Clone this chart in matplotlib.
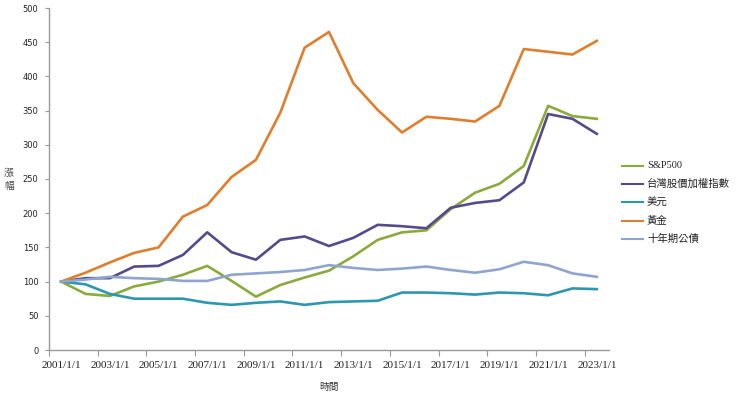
import matplotlib
matplotlib.use('Agg')
from matplotlib import pyplot as plt
from matplotlib.lines import Line2D
from matplotlib.ticker import FixedLocator, NullFormatter
import numpy as np

years = ['%d/1/1' % y for y in range(2001, 2024)]

sp500 = [100, 82, 79, 93, 100, 110, 123, 101, 78, 95, 106, 116, 137, 161, 172, 175, 206, 230, 243, 269, 357, 342, 338]
taiex = [100, 105, 105, 122, 123, 139, 172, 143, 132, 161, 166, 152, 164, 183, 181, 178, 208, 215, 219, 245, 345, 338, 316]
usd = [100, 96, 82, 75, 75, 75, 69, 66, 69, 71, 66, 70, 71, 72, 84, 84, 83, 81, 84, 83, 80, 90, 89]
gold = [100, 113, 128, 142, 150, 195, 212, 253, 278, 347, 442, 465, 390, 351, 318, 341, 338, 334, 357, 440, 436, 432, 452]
bond = [100, 103, 107, 105, 104, 101, 101, 110, 112, 114, 117, 124, 120, 117, 119, 122, 117, 113, 118, 129, 124, 112, 107]

series = [
    ('S&P500', sp500, '#8BAA3C'),
    ('台灣股價加權指數', taiex, '#574A8C'),
    ('美元', usd, '#2E97B0'),
    ('黃金', gold, '#E07E2E'),
    ('十年期公債', bond, '#8FA5D0'),
]

cjk = ['Liberation Serif', 'Noto Sans CJK TC']
W, H = 740, 396

fig = plt.figure(figsize=(7.4, 3.96), dpi=100)
ax = fig.add_axes([49 / W, 1 - 350 / H, 560 / W, 342 / H])

x = np.arange(len(years))
for name, vals, color in series:
    ax.plot(x, vals, color=color, linewidth=1.9, label=name)

ax.set_xlim(-0.5, len(years) - 0.5)
ax.set_ylim(0, 500)
ax.set_yticks(np.arange(0, 501, 50))

# category axis: tick marks between categories, labels on every other category
ax.xaxis.set_major_locator(FixedLocator(np.arange(-0.5, len(years) - 1, 2)))
ax.xaxis.set_major_formatter(NullFormatter())
ax.xaxis.set_minor_locator(FixedLocator(x[::2]))
ax.set_xticklabels(years[::2], minor=True, fontsize=8, family='Liberation Serif', color='#222222')
ax.tick_params(axis='x', which='minor', length=0, pad=8)
ax.tick_params(axis='x', which='major', length=4, color='#999999')
ax.tick_params(axis='y', length=3, color='#999999', labelsize=6, pad=4.5, labelcolor='#222222')

for side in ['top', 'right']:
    ax.spines[side].set_visible(False)
for side in ['left', 'bottom']:
    ax.spines[side].set_color('#999999')
    ax.spines[side].set_linewidth(1.0)

ax.set_xlabel('時間', family=cjk, fontsize=7, labelpad=9, color='#333333')

# vertical y label, one character per row
for ch, py in zip('漲幅', [173, 187]):
    fig.text(9 / W, 1 - py / H, ch, family=cjk, fontsize=7, ha='center', va='center',
             rotation=0, color='#444444')

# legend drawn by hand to keep rows evenly spaced
for i, (name, vals, color) in enumerate(series):
    ly = 1 - (166 + 18.2 * i) / H
    fig.add_artist(Line2D([622 / W, 643 / W], [ly, ly], color=color, linewidth=1.5))
    fig.text(647 / W, ly, name, family=cjk, fontsize=7.5, va='center', color='#222222')

plt.savefig('out.png', dpi=100)
